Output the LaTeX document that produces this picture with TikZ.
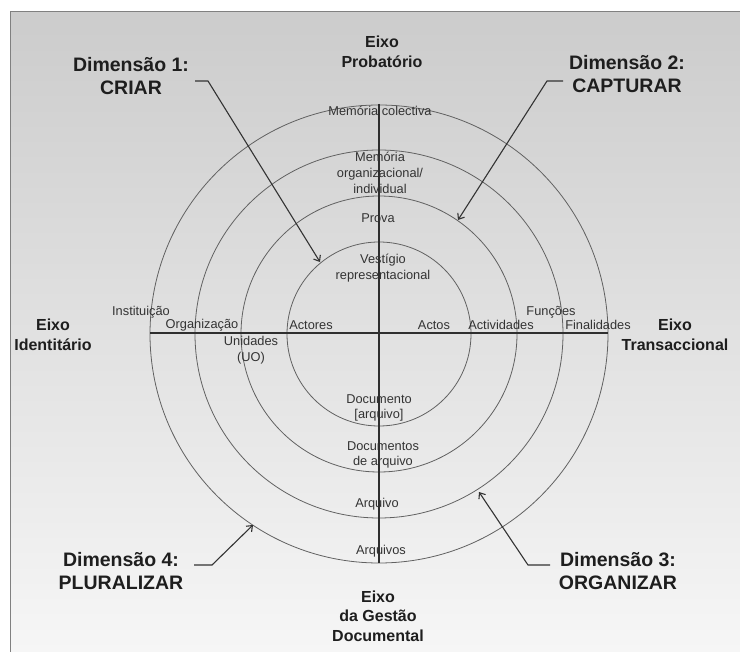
\documentclass[tikz,border=0pt]{standalone}
\usepackage{fontspec}
\setmainfont{Liberation Sans}
\usetikzlibrary{arrows.meta}
\definecolor{bgtop}{RGB}{204,204,204}
\definecolor{bgbot}{RGB}{246,246,246}
\definecolor{inkc}{RGB}{30,30,30}
\begin{document}
\begin{tikzpicture}[x=1pt,y=-1pt,
  dimlbl/.style={font=\bfseries\fontsize{19.5}{23}\selectfont, align=center, text=inkc, inner sep=0pt},
  axislbl/.style={font=\bfseries\fontsize{16}{19.5}\selectfont, align=center, text=inkc, inner sep=0pt},
  smalllbl/.style={font=\fontsize{12.8}{15.8}\selectfont, align=center, text=black!80, inner sep=0pt},
  ring/.style={draw=black!62, line width=0.8pt},
  axisline/.style={draw=black!82, line width=1.5pt},
  leader/.style={draw=black!80, line width=1.1pt, -{Straight Barb[length=5pt,width=8pt]}}
]
\useasboundingbox (0,0) rectangle (740,652);
\fill[white] (0,0) rectangle (740,652);
\shade[top color=bgtop, bottom color=bgbot] (10,12) rectangle (740,652);
\draw[black!50, line width=1pt] (740,12) -- (10,12) -- (10,652);

% centre and rings
\coordinate (c) at (379,334);
\draw[ring] (c) circle[radius=92];
\draw[ring] (c) circle[radius=138];
\draw[ring] (c) circle[radius=184];
\draw[ring] (c) circle[radius=229];

% axes
\coordinate (axL) at (150,333);
\coordinate (axR) at (608,333);
\coordinate (axT) at (379,104);
\coordinate (axB) at (379,563);
\draw[axisline] (axL) -- (axR);
\draw[axisline] (axT) -- (axB);

% axis labels
\node[axislbl] (eixoP) at (382,52) {Eixo\\Probatório};
\node[axislbl] (eixoI) at (53,335) {Eixo\\Identitário};
\node[axislbl] (eixoT) at (675,335) {Eixo\\Transaccional};
\node[axislbl] (eixoG) at (378,616) {Eixo\\da Gestão\\Documental};

% dimension labels
\node[dimlbl] (dim1) at (131,76) {Dimensão 1:\\CRIAR};
\node[dimlbl] (dim2) at (627,74) {Dimensão 2:\\CAPTURAR};
\node[dimlbl] (dim4) at (121,571) {Dimensão 4:\\PLURALIZAR};
\node[dimlbl] (dim3) at (618,571) {Dimensão 3:\\ORGANIZAR};

% ring labels
\node[smalllbl] (memcol) at (380,111) {Memória colectiva};
\node[smalllbl] (memorg) at (380,173) {Memória\\organizacional/\\individual};
\node[smalllbl] (prova) at (378,218) {Prova};
\node[smalllbl] (vest) at (383,268) {Vestígio\\representacional};
\node[smalllbl] (inst) at (141,312) {Instituição};
\node[smalllbl] (org) at (202,325) {Organização};
\node[smalllbl] (actores) at (311,325) {Actores};
\node[smalllbl] (unid) at (251,350) {Unidades\\(UO)};
\node[smalllbl] (actos) at (434,325) {Actos};
\node[smalllbl] (activ) at (501,325) {Actividades};
\node[smalllbl] (funcoes) at (551,312) {Funções};
\node[smalllbl] (final) at (598,325) {Finalidades};
\node[smalllbl] (doc) at (379,408) {Documento\\{[}arquivo{]}};
\node[smalllbl] (docs) at (383,455) {Documentos\\de arquivo};
\node[smalllbl] (arqv) at (377,504) {Arquivo};
\node[smalllbl] (arqs) at (381,551) {Arquivos};

% leaders
\coordinate (l1s) at (195,81); \coordinate (l1k) at (208,81); \coordinate (l1e) at (320,262);
\coordinate (l2s) at (563,81); \coordinate (l2k) at (547,81); \coordinate (l2e) at (458,220);
\coordinate (l4s) at (194,565); \coordinate (l4k) at (212,565); \coordinate (l4e) at (253,525);
\coordinate (l3s) at (550,565); \coordinate (l3k) at (528,565); \coordinate (l3e) at (479,492);
\draw[leader] (l1s) -- (l1k) -- (l1e);
\draw[leader] (l2s) -- (l2k) -- (l2e);
\draw[leader] (l4s) -- (l4k) -- (l4e);
\draw[leader] (l3s) -- (l3k) -- (l3e);
\end{tikzpicture}
\end{document}
